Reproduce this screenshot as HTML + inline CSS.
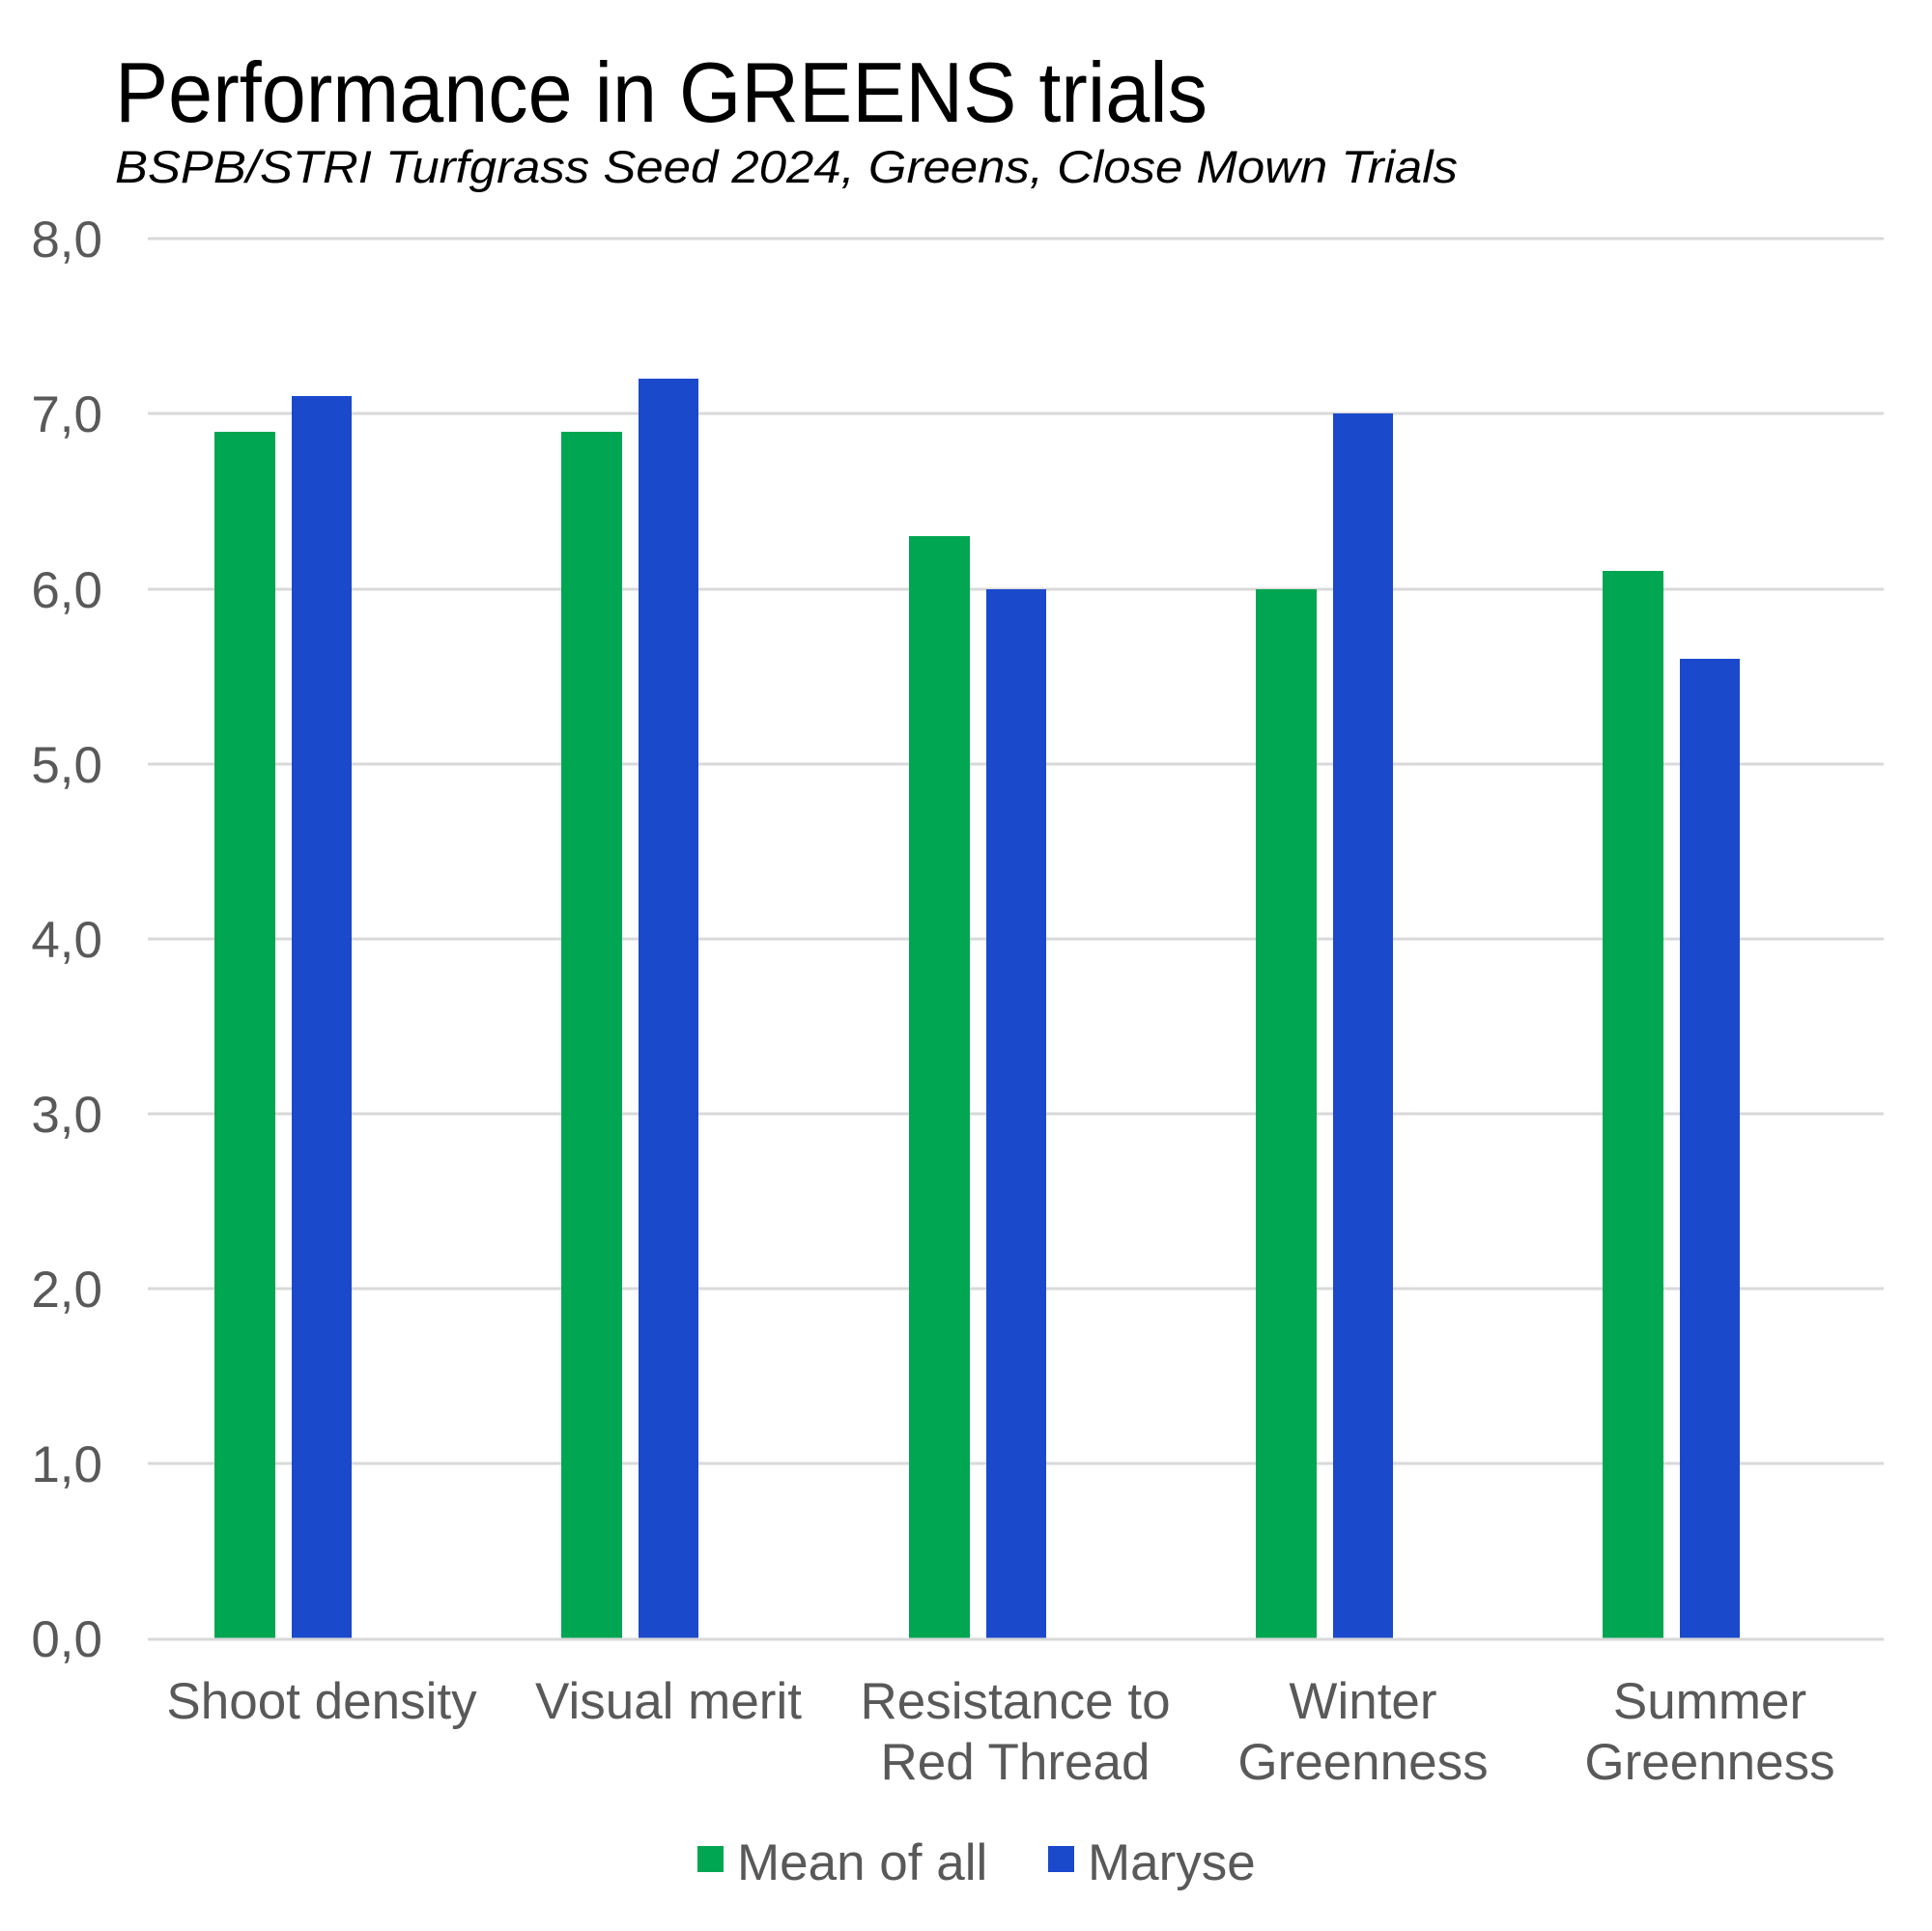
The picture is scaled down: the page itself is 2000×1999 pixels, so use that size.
<!DOCTYPE html>
<html><head><meta charset="utf-8"><style>body{margin:0;background:#fff}svg{display:block}</style></head><body>
<svg width="2000" height="1999" xmlns="http://www.w3.org/2000/svg" font-family="Liberation Sans, Arial, sans-serif">
<rect width="2000" height="1999" fill="#fff"/>
<text x="119" y="126" font-size="88" fill="#000" textLength="1131" lengthAdjust="spacingAndGlyphs">Performance in GREENS trials</text>
<text x="119" y="189" font-size="47" font-style="italic" fill="#000" textLength="1390" lengthAdjust="spacingAndGlyphs">BSPB/STRI Turfgrass Seed 2024, Greens, Close Mown Trials</text>
<g stroke="#d9d9d9" stroke-width="3">
<line x1="153" x2="1950" y1="247" y2="247"/>
<line x1="153" x2="1950" y1="428" y2="428"/>
<line x1="153" x2="1950" y1="610" y2="610"/>
<line x1="153" x2="1950" y1="791" y2="791"/>
<line x1="153" x2="1950" y1="972" y2="972"/>
<line x1="153" x2="1950" y1="1153" y2="1153"/>
<line x1="153" x2="1950" y1="1334" y2="1334"/>
<line x1="153" x2="1950" y1="1515" y2="1515"/>
</g>
<g font-size="53" fill="#595959" text-anchor="end">
<text x="106" y="266">8,0</text><text x="106" y="447">7,0</text><text x="106" y="629">6,0</text><text x="106" y="810">5,0</text><text x="106" y="991">4,0</text><text x="106" y="1172">3,0</text><text x="106" y="1353">2,0</text><text x="106" y="1534">1,0</text><text x="106" y="1715">0,0</text>
</g>
<g fill="#00A651">
<rect x="222" y="447" width="63" height="1249"/>
<rect x="581" y="447" width="63" height="1249"/>
<rect x="941" y="555" width="63" height="1141"/>
<rect x="1300" y="610" width="63" height="1086"/>
<rect x="1659" y="591" width="63" height="1105"/>
</g>
<g fill="#1A49CC">
<rect x="302" y="410" width="62" height="1286"/>
<rect x="661" y="392" width="62" height="1304"/>
<rect x="1021" y="610" width="62" height="1086"/>
<rect x="1380" y="428" width="62" height="1268"/>
<rect x="1739" y="682" width="62" height="1014"/>
</g>
<line x1="153" x2="1950" y1="1697" y2="1697" stroke="#d9d9d9" stroke-width="3"/>
<g font-size="53" fill="#595959" text-anchor="middle">
<text x="333" y="1779">Shoot density</text>
<text x="692" y="1779">Visual merit</text>
<text x="1051" y="1779">Resistance to</text><text x="1051" y="1842">Red Thread</text>
<text x="1411" y="1779">Winter</text><text x="1411" y="1842">Greenness</text>
<text x="1770" y="1779">Summer</text><text x="1770" y="1842">Greenness</text>
</g>
<rect x="722" y="1911" width="27" height="27" fill="#00A651"/>
<text x="763" y="1946" font-size="53" fill="#595959">Mean of all</text>
<rect x="1085" y="1911" width="27" height="27" fill="#1A49CC"/>
<text x="1126" y="1946" font-size="53" fill="#595959">Maryse</text>
</svg>
</body></html>
